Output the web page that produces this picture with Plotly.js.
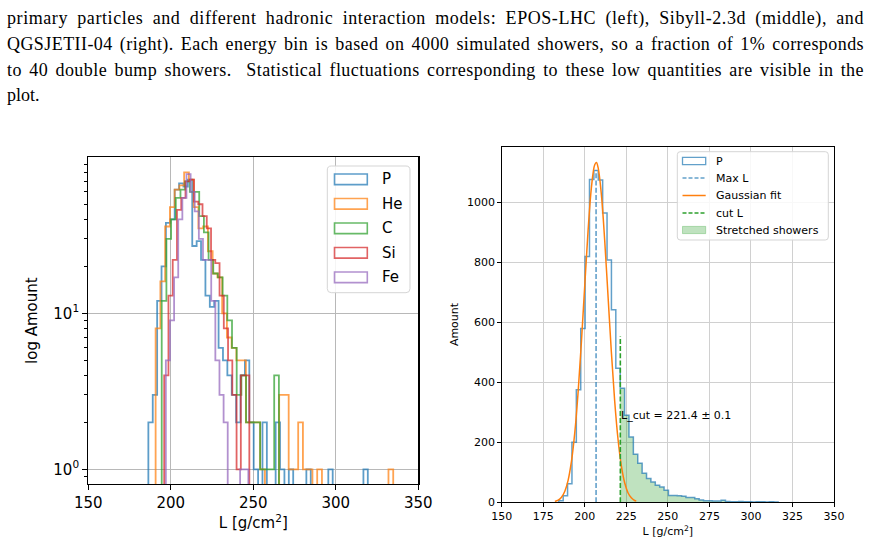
<!DOCTYPE html>
<html>
<head>
<meta charset="utf-8">
<script src="https://cdn.plot.ly/plotly-3.0.1.min.js"></script>
<style>
html,body{margin:0;padding:0;width:870px;height:543px;overflow:hidden;background:#fff}
#chart{position:absolute;left:0;top:0;width:870px;height:543px}
#caption{position:absolute;left:7px;top:6px;width:857px;font-family:"Liberation Serif","Times New Roman",serif;font-size:18px;line-height:25.8px;color:#000;z-index:5}
#caption .ln{white-space:pre;display:block;height:25.8px}
#caption .ln span{white-space:pre}
</style>
</head>
<body>
<div id="chart"></div>
<div id="caption"></div>
<script>
// ---------------- caption text ----------------
const captionLines = [
  "primary particles and different hadronic interaction models: EPOS-LHC (left), Sibyll-2.3d (middle), and",
  "QGSJETII-04 (right). Each energy bin is based on 4000 simulated showers, so a fraction of 1% corresponds",
  "to 40 double bump showers.  Statistical fluctuations corresponding to these low quantities are visible in the",
  "plot."
];

// ---------------- left panel: double bump showers per primary ----------------
const leftNames  = ['P', 'He', 'C', 'Si', 'Fe'];
const leftColors = ['rgba(31,119,180,0.72)', 'rgba(255,127,14,0.72)', 'rgba(44,160,44,0.72)', 'rgba(214,39,40,0.72)', 'rgba(148,103,189,0.72)'];
const binStart = [186.4, 190.8, 194.5, 196.0, 197.0];
const binWidth = [2.66, 2.88, 2.84, 2.58, 2.5];
const countsP  = [2,3,12,20,38,40,62,68,65,72, 27,29,22,13,11,12,6,5,4,3, 2,4,5,2,1,0,2,0,0,2, 1,0,1,0,0,0,1,0,0,0, 0,1,0,0,0,0,0,0,0,1];
const countsHe = [8,16,36,48,62,66,80,72,48,35, 36,25,18,17,10,7,6,5,5,2, 2,2,1,0,0,0,3,3,1,1, 2,1,1,0,1,0,0,0,0,0, 0,0,0,0,0,0,0,0,0,1];
const countsC  = [12,30,40,55,62,70,60,60,42,33, 22,18,17,13,9,6,3,4,2,2, 2,1,1,1,4];
const countsSi = [4,13,22,46,55,70,72,52,50,42, 35,22,21,13,8,5,3,1,4,4];
const countsFe = [5,9,17,40,55,78,60,45,30,22, 22,12,5,3,2,0,0,0,1,1];
const leftCounts = [countsP, countsHe, countsC, countsSi, countsFe];
const leftXTicks = [150, 200, 250, 300, 350];

// ---------------- right panel: proton L distribution ----------------
const rightStart = 184.36, rightWidth = 2.64;
const rightCounts = [5,22,62,200,375,580,820,1077,1107,1075, 965,808,642,447,380,290,218,160,130,97,
                     79,68,57,51,40,23,23,22,20,16, 16,12,8,5,5,4,4,7,3,2, 2,3,2,2,1,2,2,1,2,1];
const gaussX = [182,184,186,188,190,192,194,196,198,200,202,204,206,207,208,210,212,214,216,218,220,222,224,226,228,230,231];
const gaussY = [3,7.5,17,37,74,137,233,368,537,725,907,1050,1126,1133,1117,1026,873,687,501,338,211,122,65,32,15,6,4];
const maxL = 206.8;
const cutL = 221.4, cutErr = 0.1;
const cutLabelY = 291;
const rightLegend = ['P', 'Max L', 'Gaussian fit', 'cut L', 'Stretched showers'];

// ---------------- helpers ----------------
const W = 870, H = 543;
const PX = p => p / W, PY = p => 1 - p / H;

function stepXY(start, width, counts, floor) {
  const n = counts.length, x = [start], y = [floor];
  for (let i = 0; i < n; i++) { x.push(start + i * width); y.push(counts[i] > 0 ? counts[i] : floor); }
  x.push(start + n * width); y.push(counts[n - 1] > 0 ? counts[n - 1] : floor);
  x.push(start + n * width); y.push(floor);
  return {x, y};
}

const traces = [];
leftCounts.forEach((c, i) => {
  const s = stepXY(binStart[i], binWidth[i], c, 0.05);
  traces.push({type: 'scatter', mode: 'lines', x: s.x, y: s.y, name: leftNames[i],
    line: {shape: 'hv', color: leftColors[i], width: 1.8}, xaxis: 'x', yaxis: 'y', hoverinfo: 'skip'});
});

// stretched showers fill (bins above cut)
const firstCut = rightCounts.findIndex((_, i) => rightStart + i * rightWidth >= cutL - rightWidth / 2);
const fillS = stepXY(rightStart + firstCut * rightWidth, rightWidth, rightCounts.slice(firstCut), 0);
traces.push({type: 'scatter', mode: 'lines', x: fillS.x, y: fillS.y, name: rightLegend[4],
  line: {shape: 'hv', width: 0, color: 'rgba(44,160,44,0)'}, fill: 'tozeroy', fillcolor: 'rgba(44,160,44,0.3)',
  xaxis: 'x2', yaxis: 'y2', hoverinfo: 'skip'});
const rS = stepXY(rightStart, rightWidth, rightCounts, 0);
traces.push({type: 'scatter', mode: 'lines', x: rS.x, y: rS.y, name: rightLegend[0],
  line: {shape: 'hv', color: 'rgba(31,119,180,0.7)', width: 1.5}, xaxis: 'x2', yaxis: 'y2'});
const peak = Math.max(...rightCounts);
traces.push({type: 'scatter', mode: 'lines', x: [maxL, maxL], y: [0, peak], name: rightLegend[1],
  line: {color: 'rgba(31,119,180,0.7)', width: 1.6, dash: '5px,2.2px'}, xaxis: 'x2', yaxis: 'y2'});
traces.push({type: 'scatter', mode: 'lines', x: gaussX, y: gaussY, name: rightLegend[2],
  line: {color: '#ff7f0e', width: 1.5, shape: 'spline'}, xaxis: 'x2', yaxis: 'y2'});
traces.push({type: 'scatter', mode: 'lines', x: [cutL, cutL], y: [0, peak / 2], name: rightLegend[3],
  line: {color: '#2ca02c', width: 1.6, dash: '5px,2.2px'}, xaxis: 'x2', yaxis: 'y2'});

// ---------------- legends (drawn as shapes + text) ----------------
function roundRect(x0, y0, x1, y1, r) {
  const f = (a, b) => PX(a).toFixed(5) + ',' + PY(b).toFixed(5);
  return 'M' + f(x0 + r, y0) + ' L' + f(x1 - r, y0) + ' Q' + f(x1, y0) + ' ' + f(x1, y0 + r) +
         ' L' + f(x1, y1 - r) + ' Q' + f(x1, y1) + ' ' + f(x1 - r, y1) +
         ' L' + f(x0 + r, y1) + ' Q' + f(x0, y1) + ' ' + f(x0, y1 - r) +
         ' L' + f(x0, y0 + r) + ' Q' + f(x0, y0) + ' ' + f(x0 + r, y0) + ' Z';
}
const shapes = [], annotations = [];
// left legend
shapes.push({type: 'path', xref: 'paper', yref: 'paper', path: roundRect(327.3, 166, 410, 292.7, 4),
  fillcolor: 'rgba(255,255,255,0.85)', line: {color: '#d5d5d5', width: 1}});
const leftRows = [179.3, 203.8, 228.3, 252.8, 277.3];
leftNames.forEach((nm, i) => {
  const yc = leftRows[i];
  shapes.push({type: 'rect', xref: 'paper', yref: 'paper', x0: PX(334.5), x1: PX(367.3), y0: PY(yc - 5.3), y1: PY(yc + 5.3),
    line: {color: leftColors[i], width: 1.6}, fillcolor: 'rgba(0,0,0,0)'});
  annotations.push({xref: 'paper', yref: 'paper', x: PX(380), y: PY(yc), text: nm, showarrow: false,
    xanchor: 'left', yanchor: 'middle', font: {size: 15, color: '#000'}});
});
// right legend
shapes.push({type: 'path', xref: 'paper', yref: 'paper', path: roundRect(677.3, 151.7, 828.3, 240, 3),
  fillcolor: 'rgba(255,255,255,0.85)', line: {color: '#d5d5d5', width: 1}});
const rightRows = [161, 178, 195.5, 213, 230];
const hx0 = 682.5, hx1 = 705.7;
shapes.push({type: 'rect', xref: 'paper', yref: 'paper', x0: PX(hx0), x1: PX(hx1), y0: PY(rightRows[0] - 3.6), y1: PY(rightRows[0] + 3.6),
  line: {color: 'rgba(31,119,180,0.7)', width: 1.3}, fillcolor: 'rgba(0,0,0,0)'});
shapes.push({type: 'line', xref: 'paper', yref: 'paper', x0: PX(hx0), x1: PX(hx1), y0: PY(rightRows[1]), y1: PY(rightRows[1]),
  line: {color: 'rgba(31,119,180,0.7)', width: 1.5, dash: '4px,2px'}});
shapes.push({type: 'line', xref: 'paper', yref: 'paper', x0: PX(hx0), x1: PX(hx1), y0: PY(rightRows[2]), y1: PY(rightRows[2]),
  line: {color: '#ff7f0e', width: 1.5}});
shapes.push({type: 'line', xref: 'paper', yref: 'paper', x0: PX(hx0), x1: PX(hx1), y0: PY(rightRows[3]), y1: PY(rightRows[3]),
  line: {color: '#2ca02c', width: 1.5, dash: '4px,2px'}});
shapes.push({type: 'rect', xref: 'paper', yref: 'paper', x0: PX(hx0), x1: PX(hx1), y0: PY(rightRows[4] - 3.6), y1: PY(rightRows[4] + 3.6),
  line: {color: 'rgba(44,160,44,0.3)', width: 1}, fillcolor: 'rgba(44,160,44,0.3)'});
rightLegend.forEach((nm, i) => {
  annotations.push({xref: 'paper', yref: 'paper', x: PX(714), y: PY(rightRows[i]), text: nm, showarrow: false,
    xanchor: 'left', yanchor: 'middle', font: {size: 11, color: '#000'}});
});
// cut label
annotations.push({xref: 'x2', yref: 'y2', x: cutL, y: cutLabelY, text: 'L_cut = ' + cutL.toFixed(1) + ' ± ' + cutErr.toFixed(1),
  showarrow: false, xanchor: 'left', yanchor: 'middle', xshift: -1, font: {size: 11, color: '#000'}});

// ---------------- layout ----------------
const minorLog = [0.9, 2, 3, 4, 5, 6, 7, 8, 9, 20, 30, 40, 50, 60, 70, 80, 90];
const layout = {
  width: W, height: H, margin: {l: 0, r: 0, t: 0, b: 0},
  showlegend: false, paper_bgcolor: '#fff', plot_bgcolor: '#fff',
  font: {family: 'DejaVu Sans, sans-serif', color: '#000'},
  xaxis: {domain: [PX(88.3), PX(418.3)], range: [150, 350], tickmode: 'array', tickvals: leftXTicks,
    ticks: 'outside', ticklen: 5, tickwidth: 1, tickcolor: '#000', showline: true, mirror: true,
    linecolor: '#000', linewidth: 1.2, showgrid: true, gridcolor: '#b8b8b8', gridwidth: 1, zeroline: false,
    tickfont: {size: 15}, anchor: 'y',
    title: {text: 'L [g/cm<sup>2</sup>]', font: {size: 15}, standoff: 6}},
  yaxis: {domain: [PY(484), PY(157.3)], type: 'log', range: [-0.094, 2.0], tickmode: 'array', tickvals: [1, 10],
    ticktext: ['10<sup>0</sup>', '10<sup>1</sup>'], ticks: 'outside', ticklen: 5, tickwidth: 1, tickcolor: '#000',
    minor: {tickmode: 'array', tickvals: minorLog, ticks: 'outside', ticklen: 2.8, tickcolor: '#000', showgrid: false},
    showline: true, mirror: true, linecolor: '#000', linewidth: 1.2, showgrid: true, gridcolor: '#b8b8b8',
    zeroline: false, tickfont: {size: 15}, anchor: 'x',
    title: {text: 'log Amount', font: {size: 15}, standoff: 12}},
  xaxis2: {domain: [PX(501.7), PX(834)], range: [150, 350], tick0: 150, dtick: 25,
    ticks: 'outside', ticklen: 3.5, tickcolor: '#000', showline: true, mirror: true, linecolor: '#000', linewidth: 1,
    showgrid: true, gridcolor: '#d0d0d0', gridwidth: 1, zeroline: false, tickfont: {size: 11}, anchor: 'y2',
    title: {text: 'L [g/cm<sup>2</sup>]', font: {size: 11}, standoff: 5}},
  yaxis2: {domain: [PY(502.3), PY(146.7)], range: [0, 1186], tick0: 0, dtick: 200,
    ticks: 'outside', ticklen: 3.5, tickcolor: '#000', showline: true, mirror: true, linecolor: '#000', linewidth: 1,
    showgrid: true, gridcolor: '#d0d0d0', gridwidth: 1, zeroline: false, tickfont: {size: 11}, anchor: 'x2',
    title: {text: 'Amount', font: {size: 11}, standoff: 6}},
  shapes: shapes, annotations: annotations
};

Plotly.newPlot('chart', traces, layout, {staticPlot: true, displayModeBar: false});

// ---------------- caption (justified lines) ----------------
const cap = document.getElementById('caption');
captionLines.forEach((t, i) => {
  const d = document.createElement('div'); d.className = 'ln';
  const s = document.createElement('span'); s.textContent = t; d.appendChild(s); cap.appendChild(d);
  if (i < captionLines.length - 1) {
    const w = s.getBoundingClientRect().width;
    const extra = 857 - w;
    const spaces = (t.match(/ /g) || []).length;
    // share the remaining room between letters and word gaps, as justified text
    const ls = extra * 0.55 / (t.length - 1);
    s.style.letterSpacing = ls + 'px';
    const w2 = s.getBoundingClientRect().width;
    s.style.wordSpacing = ((857 - w2) / spaces) + 'px';
  }
});
</script>
</body>
</html>
